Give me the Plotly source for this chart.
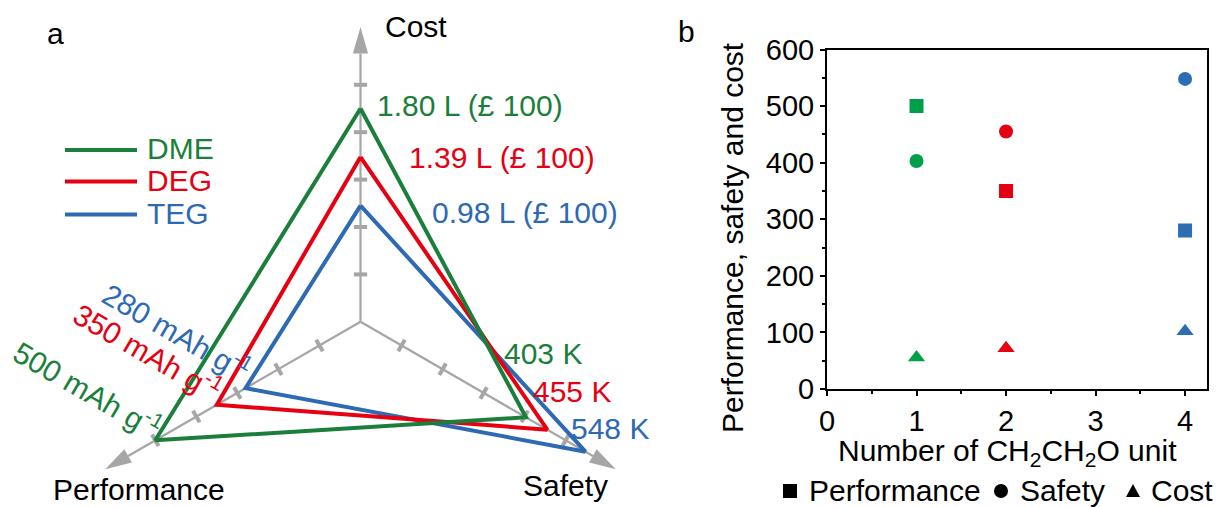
import numpy as np
import plotly.graph_objects as go

# ---------------- data ----------------
series = ["DME", "DEG", "TEG"]
cost_L = [1.80, 1.39, 0.98]          # litres per £100
perf_mAh = [500, 350, 280]           # mAh g-1
safety_K = [403, 455, 548]           # K
n_units = [1, 2, 4]                  # number of CH2CH2O units
cost_val = [55.6, 71.9, 102.0]       # cost (panel b)

line_colors = ["#1b7f3b", "#e60012", "#2e6ab3"]
marker_colors = ["#00a04a", "#e60012", "#2e6db4"]

# radar axis definitions: angle (deg) and value per tick unit
axes_def = {
    "cost": (90, 0.4),
    "perf": (210, 100.0),
    "safety": (330, 100.0),
}

W, H = 1221, 507
FONT = "Liberation Sans, Arial, sans-serif"
FS = 30
TFS = 29

# left panel pixel geometry
CX, CY = 360.5, 321.8
U = 47.4  # px per tick unit
LEFT_W = 660


def P(px, py):
    return px / W, 1 - py / H


def vec(name, r):
    ang = np.deg2rad(axes_def[name][0])
    return r * np.cos(ang), r * np.sin(ang)


fig = go.Figure()

# ---------------- radar polygons ----------------
for i in [2, 1, 0]:
    pts = []
    for name, v in (("cost", cost_L[i]), ("safety", safety_K[i]), ("perf", perf_mAh[i])):
        pts.append(vec(name, v / axes_def[name][1]))
    pts.append(pts[0])
    xs = [p[0] for p in pts]
    ys = [p[1] for p in pts]
    fig.add_trace(go.Scatter(x=xs, y=ys, mode="lines", xaxis="x", yaxis="y",
                             line=dict(color=line_colors[i], width=4),
                             showlegend=False, hoverinfo="skip"))

# ---------------- radar axes (shapes, below traces) ----------------
GREY = "#a6a6a6"
tip_r, head_len, head_hw = 6.22, 0.56, 0.16
tick_hl = 0.14
shapes = []
for name in axes_def:
    ang = np.deg2rad(axes_def[name][0])
    d = np.array([np.cos(ang), np.sin(ang)])
    nrm = np.array([-d[1], d[0]])
    base = d * (tip_r - head_len)
    shapes.append(dict(type="line", xref="x", yref="y", x0=0, y0=0,
                       x1=base[0], y1=base[1], line=dict(color=GREY, width=2.2),
                       layer="below"))
    tip = d * tip_r
    b1 = base + nrm * head_hw
    b2 = base - nrm * head_hw
    shapes.append(dict(type="path", xref="x", yref="y",
                       path=f"M {tip[0]} {tip[1]} L {b1[0]} {b1[1]} L {b2[0]} {b2[1]} Z",
                       fillcolor=GREY, line=dict(color=GREY, width=0), layer="below"))
    for k in range(1, 6):
        c = d * k
        a = c + nrm * tick_hl
        b = c - nrm * tick_hl
        shapes.append(dict(type="line", xref="x", yref="y", x0=a[0], y0=a[1],
                           x1=b[0], y1=b[1], line=dict(color=GREY, width=4),
                           layer="below"))

# left legend lines
leg_y = [150, 181.5, 214.5]
for i in range(3):
    x0, y0 = P(65, leg_y[i])
    x1, _ = P(137, leg_y[i])
    shapes.append(dict(type="line", xref="paper", yref="paper", x0=x0, y0=y0,
                       x1=x1, y1=y0, line=dict(color=line_colors[i], width=4)))

# ---------------- panel b scatter ----------------
sym = {"Performance": "square", "Safety": "circle", "Cost": "triangle-up"}
vals = {"Performance": perf_mAh, "Safety": safety_K, "Cost": cost_val}
for key in ["Performance", "Safety", "Cost"]:
    fig.add_trace(go.Scatter(x=n_units, y=vals[key], mode="markers",
                             xaxis="x2", yaxis="y2",
                             marker=dict(symbol=sym[key], size=14 if key != "Cost" else 15,
                                         color=marker_colors, line=dict(width=0)),
                             showlegend=False, name=key))

# bottom legend symbols (black)
def rect_px(x0, y0, x1, y1):
    return P(x0, y0), P(x1, y1)

(a, b) = rect_px(783, 484, 797, 498)
shapes.append(dict(type="rect", xref="paper", yref="paper", x0=a[0], y0=a[1], x1=b[0], y1=b[1],
                   fillcolor="black", line=dict(width=0)))
(a, b) = rect_px(994, 484, 1008, 498)
shapes.append(dict(type="circle", xref="paper", yref="paper", x0=a[0], y0=a[1], x1=b[0], y1=b[1],
                   fillcolor="black", line=dict(width=0)))
t1, t2, t3 = P(1126, 497), P(1140, 497), P(1133, 484)
shapes.append(dict(type="path", xref="paper", yref="paper",
                   path=f"M {t1[0]} {t1[1]} L {t2[0]} {t2[1]} L {t3[0]} {t3[1]} Z",
                   fillcolor="black", line=dict(width=0)))

# ---------------- annotations ----------------
ann = []


def add_text(txt, px, py, color="black", xanchor="center", yanchor="middle", angle=0, size=FS):
    x, y = P(px, py)
    ann.append(dict(text=txt, x=x, y=y, xref="paper", yref="paper", showarrow=False,
                    xanchor=xanchor, yanchor=yanchor, textangle=angle, borderpad=0,
                    font=dict(family=FONT, size=size, color=color)))


# panel labels
add_text("a", 55, 33)
add_text("b", 686, 32)
# radar axis titles
add_text("Cost", 416, 26)
add_text("Performance", 139, 489)
add_text("Safety", 565, 485)
# legend text
for i, s in enumerate(series):
    add_text(s, 146, leg_y[i] - 1, color=line_colors[i], xanchor="left")
# cost labels
cost_lab_pos = [(376, 106), (408, 157), (431, 212)]
for i in range(3):
    add_text(f"{cost_L[i]:.2f} L (£ 100)", cost_lab_pos[i][0], cost_lab_pos[i][1],
             color=line_colors[i], xanchor="left")
# safety labels
saf_pos = [(503, 353), (532, 391), (570, 428)]
for i in range(3):
    add_text(f"{safety_K[i]} K", saf_pos[i][0], saf_pos[i][1], color=line_colors[i], xanchor="left")
# performance labels (rotated)
perf_pos = [(88, 389), (148, 351), (177, 331)]
for i in range(3):
    add_text(f"{perf_mAh[i]} mAh g<sup>-1</sup>", perf_pos[i][0], perf_pos[i][1],
             color=line_colors[i], angle=30)
# panel b titles
add_text("Number of CH<sub>2</sub>CH<sub>2</sub>O unit", 1007, 452)
add_text("Performance, safety and cost", 733, 238, angle=-90)
# bottom legend text
add_text("Performance", 808, 490, xanchor="left")
add_text("Safety", 1019, 490, xanchor="left")
add_text("Cost", 1150, 490, xanchor="left")

# ---------------- layout ----------------
x2d0, x2d1 = 827 / W, 1207 / W
y2d0, y2d1 = (H - 389) / H, (H - 49.5) / H

fig.update_layout(
    width=W, height=H, autosize=False,
    margin=dict(l=0, r=0, t=0, b=0, pad=0, autoexpand=False),
    paper_bgcolor="white", plot_bgcolor="white",
    showlegend=False,
    xaxis=dict(domain=[0, LEFT_W / W], range=[-CX / U, (LEFT_W - CX) / U],
               visible=False, fixedrange=True, automargin=False),
    yaxis=dict(domain=[0, 1], range=[-(H - CY) / U, CY / U], visible=False,
               fixedrange=True, automargin=False),
    xaxis2=dict(domain=[x2d0, x2d1], range=[0, 4.245], anchor="y2", automargin=False,
                showline=True, linecolor="black", linewidth=2, mirror=True,
                ticks="outside", ticklen=5, tickwidth=2, tickcolor="black",
                tickvals=[0, 1, 2, 3, 4], showgrid=False, zeroline=False,
                minor=dict(tickvals=[0.5, 1.5, 2.5, 3.5], ticks="outside", ticklen=3,
                           tickwidth=2, tickcolor="black", showgrid=False),
                tickfont=dict(family=FONT, size=TFS, color="black")),
    yaxis2=dict(domain=[y2d0, y2d1], range=[0, 600], anchor="x2", automargin=False,
                showline=True, linecolor="black", linewidth=2, mirror=True,
                ticks="outside", ticklen=5, tickwidth=2, tickcolor="black",
                tickvals=[0, 100, 200, 300, 400, 500, 600], showgrid=False, zeroline=False,
                minor=dict(tickvals=[50, 150, 250, 350, 450, 550], ticks="outside", ticklen=3,
                           tickwidth=2, tickcolor="black", showgrid=False),
                tickfont=dict(family=FONT, size=TFS, color="black")),
    shapes=shapes,
    annotations=ann,
    font=dict(family=FONT, size=FS, color="black"),
)

fig.write_html("out.html")
